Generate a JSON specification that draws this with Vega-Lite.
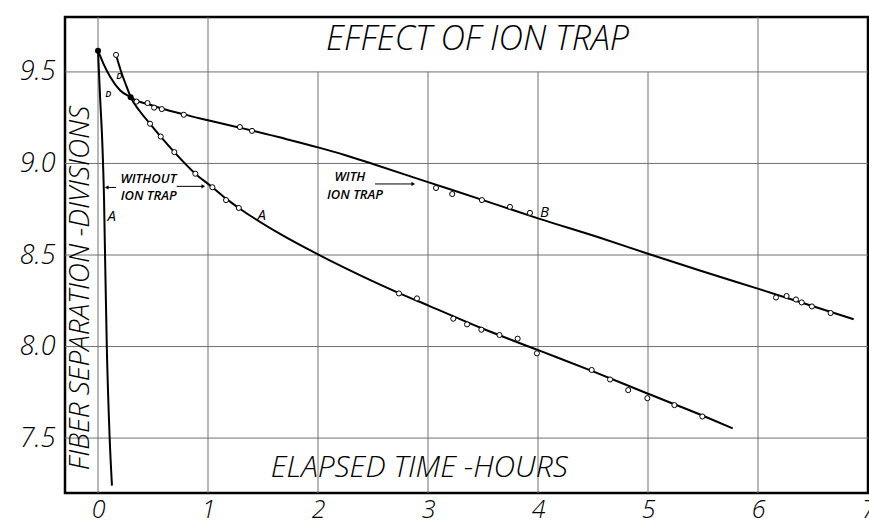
{
  "$schema": "https://vega.github.io/schema/vega-lite/v6.json",
  "width": 803,
  "height": 476,
  "autosize": "none",
  "padding": {"left": 65, "top": 17, "right": 1, "bottom": 30},
  "background": "white",
  "config": {
    "view": {"stroke": "black", "strokeWidth": 2.5},
    "font": "Open Sans",
    "axis": {"grid": false, "ticks": false, "domain": false, "labelFont": "Open Sans", "labelFontStyle": "italic", "labelFontWeight": 300, "labelColor": "black", "title": null},
    "axisX": {"labelPadding": 16, "labelBaseline": "middle", "labelFontSize": 25, "labelFlush": false},
    "axisY": {"labelPadding": 10, "labelFontSize": 27}
  },
  "datasets": {
    "gridv": [
      {"x": 0, "ylo": 7.2, "yhi": 9.8},
      {"x": 1, "ylo": 7.2, "yhi": 9.8},
      {"x": 2, "ylo": 7.2, "yhi": 9.5},
      {"x": 3, "ylo": 7.2, "yhi": 9.5},
      {"x": 4, "ylo": 7.2, "yhi": 9.5},
      {"x": 5, "ylo": 7.2, "yhi": 9.5},
      {"x": 6, "ylo": 7.2, "yhi": 9.8}
    ],
    "gridh": [
      {"y": 7.5, "xlo": -0.3, "xhi": 7},
      {"y": 8.0, "xlo": -0.3, "xhi": 7},
      {"y": 8.5, "xlo": -0.3, "xhi": 7},
      {"y": 9.0, "xlo": -0.3, "xhi": 7},
      {"y": 9.5, "xlo": -0.3, "xhi": 7}
    ],
    "curves": [
      {"series": "steep", "x": 0.0, "y": 9.616},
      {"series": "steep", "x": 0.02, "y": 9.35},
      {"series": "steep", "x": 0.04, "y": 9.1},
      {"series": "steep", "x": 0.055, "y": 8.8},
      {"series": "steep", "x": 0.064, "y": 8.5},
      {"series": "steep", "x": 0.08, "y": 8.0},
      {"series": "steep", "x": 0.106, "y": 7.5},
      {"series": "steep", "x": 0.127, "y": 7.24},
      {"series": "A", "x": 0.164, "y": 9.593},
      {"series": "A", "x": 0.215, "y": 9.493},
      {"series": "A", "x": 0.26, "y": 9.42},
      {"series": "A", "x": 0.297, "y": 9.362},
      {"series": "A", "x": 0.382, "y": 9.284},
      {"series": "A", "x": 0.473, "y": 9.217},
      {"series": "A", "x": 0.57, "y": 9.147},
      {"series": "A", "x": 0.694, "y": 9.062},
      {"series": "A", "x": 0.885, "y": 8.944},
      {"series": "A", "x": 1.04, "y": 8.87},
      {"series": "A", "x": 1.164, "y": 8.808},
      {"series": "A", "x": 1.28, "y": 8.757},
      {"series": "A", "x": 1.655, "y": 8.615},
      {"series": "A", "x": 2.0, "y": 8.503},
      {"series": "A", "x": 2.38, "y": 8.39},
      {"series": "A", "x": 2.736, "y": 8.292},
      {"series": "A", "x": 3.0, "y": 8.225},
      {"series": "A", "x": 3.5, "y": 8.097},
      {"series": "A", "x": 4.02, "y": 7.976},
      {"series": "A", "x": 4.5, "y": 7.864},
      {"series": "A", "x": 5.0, "y": 7.742},
      {"series": "A", "x": 5.5, "y": 7.622},
      {"series": "A", "x": 5.77, "y": 7.553},
      {"series": "B", "x": 0.0, "y": 9.616},
      {"series": "B", "x": 0.048, "y": 9.547},
      {"series": "B", "x": 0.109, "y": 9.475},
      {"series": "B", "x": 0.2, "y": 9.40},
      {"series": "B", "x": 0.297, "y": 9.362},
      {"series": "B", "x": 0.35, "y": 9.343},
      {"series": "B", "x": 0.45, "y": 9.325},
      {"series": "B", "x": 0.58, "y": 9.30},
      {"series": "B", "x": 0.78, "y": 9.268},
      {"series": "B", "x": 1.0, "y": 9.236},
      {"series": "B", "x": 1.29, "y": 9.195},
      {"series": "B", "x": 1.4, "y": 9.180},
      {"series": "B", "x": 1.7, "y": 9.135},
      {"series": "B", "x": 2.0, "y": 9.088},
      {"series": "B", "x": 2.25, "y": 9.045},
      {"series": "B", "x": 2.5, "y": 8.997},
      {"series": "B", "x": 3.0, "y": 8.898},
      {"series": "B", "x": 3.5, "y": 8.80},
      {"series": "B", "x": 4.0, "y": 8.70},
      {"series": "B", "x": 4.564, "y": 8.594},
      {"series": "B", "x": 5.0, "y": 8.507},
      {"series": "B", "x": 5.5, "y": 8.41},
      {"series": "B", "x": 6.02, "y": 8.312},
      {"series": "B", "x": 6.5, "y": 8.22},
      {"series": "B", "x": 6.87, "y": 8.149}
    ],
    "obs": [
      {"series": "B", "role": "anchor", "x": 0.0, "y": 9.616},
      {"series": "B", "role": "anchor", "x": 0.297, "y": 9.362},
      {"series": "B", "role": "obs", "x": 0.35, "y": 9.338},
      {"series": "B", "role": "obs", "x": 0.45, "y": 9.33},
      {"series": "B", "role": "obs", "x": 0.51, "y": 9.305},
      {"series": "B", "role": "obs", "x": 0.58, "y": 9.297},
      {"series": "B", "role": "obs", "x": 0.78, "y": 9.266},
      {"series": "B", "role": "obs", "x": 1.29, "y": 9.199},
      {"series": "B", "role": "obs", "x": 1.40, "y": 9.178},
      {"series": "B", "role": "obs", "x": 3.073, "y": 8.866},
      {"series": "B", "role": "obs", "x": 3.22, "y": 8.833},
      {"series": "B", "role": "obs", "x": 3.49, "y": 8.80},
      {"series": "B", "role": "obs", "x": 3.745, "y": 8.763},
      {"series": "B", "role": "obs", "x": 3.927, "y": 8.73},
      {"series": "B", "role": "obs", "x": 6.164, "y": 8.268},
      {"series": "B", "role": "obs", "x": 6.26, "y": 8.276},
      {"series": "B", "role": "obs", "x": 6.345, "y": 8.257},
      {"series": "B", "role": "obs", "x": 6.397, "y": 8.241},
      {"series": "B", "role": "obs", "x": 6.49, "y": 8.219},
      {"series": "B", "role": "obs", "x": 6.66, "y": 8.183},
      {"series": "A", "role": "obs", "x": 0.164, "y": 9.593},
      {"series": "A", "role": "obs", "x": 0.473, "y": 9.217},
      {"series": "A", "role": "obs", "x": 0.57, "y": 9.147},
      {"series": "A", "role": "obs", "x": 0.694, "y": 9.062},
      {"series": "A", "role": "obs", "x": 0.885, "y": 8.944},
      {"series": "A", "role": "obs", "x": 1.04, "y": 8.87},
      {"series": "A", "role": "obs", "x": 1.164, "y": 8.80},
      {"series": "A", "role": "obs", "x": 1.28, "y": 8.757},
      {"series": "A", "role": "obs", "x": 2.736, "y": 8.29},
      {"series": "A", "role": "obs", "x": 2.90, "y": 8.263},
      {"series": "A", "role": "obs", "x": 3.23, "y": 8.152},
      {"series": "A", "role": "obs", "x": 3.355, "y": 8.121},
      {"series": "A", "role": "obs", "x": 3.485, "y": 8.092},
      {"series": "A", "role": "obs", "x": 3.65, "y": 8.063},
      {"series": "A", "role": "obs", "x": 3.815, "y": 8.043},
      {"series": "A", "role": "obs", "x": 3.99, "y": 7.963},
      {"series": "A", "role": "obs", "x": 4.488, "y": 7.872},
      {"series": "A", "role": "obs", "x": 4.655, "y": 7.82},
      {"series": "A", "role": "obs", "x": 4.82, "y": 7.762},
      {"series": "A", "role": "obs", "x": 4.994, "y": 7.718},
      {"series": "A", "role": "obs", "x": 5.24, "y": 7.68},
      {"series": "A", "role": "obs", "x": 5.494, "y": 7.618}
    ],
    "arrows": [
      {"x": 0.079, "x2": 0.164, "y": 8.869},
      {"x": 0.715, "x2": 0.957, "y": 8.875},
      {"x": 2.518, "x2": 2.866, "y": 8.888}
    ],
    "heads": [
      {"x": 0.079, "y": 8.869, "dir": "left"},
      {"x": 0.957, "y": 8.875, "dir": "right"},
      {"x": 2.866, "y": 8.888, "dir": "right"}
    ],
    "texts": [
      {"kind": "title", "x": 3.45, "y": 9.674, "text": "EFFECT OF ION TRAP"},
      {"kind": "xtitle", "x": 2.92, "y": 7.337, "text": "ELAPSED TIME -HOURS"},
      {"kind": "ytitle", "x": -0.155, "y": 8.32, "text": "FIBER SEPARATION -DIVISIONS"},
      {"kind": "note", "x": 0.458, "y": 8.917, "text": "WITHOUT"},
      {"kind": "note", "x": 0.46, "y": 8.82, "text": "ION TRAP"},
      {"kind": "note", "x": 2.29, "y": 8.926, "text": "WITH"},
      {"kind": "note", "x": 2.336, "y": 8.83, "text": "ION TRAP"},
      {"kind": "letter", "x": 0.125, "y": 8.715, "text": "A"},
      {"kind": "letter", "x": 1.488, "y": 8.719, "text": "A"},
      {"kind": "letter", "x": 4.058, "y": 8.733, "text": "B"},
      {"kind": "small", "x": 0.094, "y": 9.38, "text": "D"},
      {"kind": "small", "x": 0.194, "y": 9.478, "text": "D"}
    ]
  },
  "layer": [
    {
      "data": {"name": "gridv"},
      "mark": {"type": "rule", "color": "#707070", "strokeWidth": 1},
      "encoding": {
        "x": {"field": "x", "type": "quantitative", "title": null,
          "scale": {"domain": [-0.3, 7], "nice": false, "zero": false},
          "axis": {"values": [0, 1, 2, 3, 4, 5, 6, 7], "format": "d"}},
        "y": {"field": "ylo", "type": "quantitative", "title": null,
          "scale": {"domain": [7.2, 9.8], "nice": false, "zero": false},
          "axis": {"values": [7.5, 8, 8.5, 9, 9.5], "format": ".1f"}},
        "y2": {"field": "yhi"}
      }
    },
    {
      "data": {"name": "gridh"},
      "mark": {"type": "rule", "color": "#707070", "strokeWidth": 1},
      "encoding": {
        "y": {"field": "y", "type": "quantitative", "title": null},
        "x": {"field": "xlo", "type": "quantitative", "title": null},
        "x2": {"field": "xhi"}
      }
    },
    {
      "data": {"name": "curves"},
      "mark": {"type": "line", "color": "black", "strokeWidth": 2, "interpolate": "monotone"},
      "encoding": {
        "x": {"field": "x", "type": "quantitative", "title": null},
        "y": {"field": "y", "type": "quantitative", "title": null},
        "detail": {"field": "series"}
      }
    },
    {
      "data": {"name": "obs"},
      "transform": [{"filter": "datum.role === 'obs'"}],
      "mark": {"type": "point", "shape": "circle", "filled": true, "fill": "white", "stroke": "black", "strokeWidth": 1, "size": 26, "opacity": 1},
      "encoding": {
        "x": {"field": "x", "type": "quantitative", "title": null},
        "y": {"field": "y", "type": "quantitative", "title": null}
      }
    },
    {
      "data": {"name": "obs"},
      "transform": [{"filter": "datum.role === 'anchor'"}],
      "mark": {"type": "point", "shape": "circle", "filled": true, "color": "black", "size": 36, "opacity": 1},
      "encoding": {
        "x": {"field": "x", "type": "quantitative", "title": null},
        "y": {"field": "y", "type": "quantitative", "title": null}
      }
    },
    {
      "data": {"name": "arrows"},
      "mark": {"type": "rule", "color": "black", "strokeWidth": 1},
      "encoding": {
        "x": {"field": "x", "type": "quantitative", "title": null},
        "x2": {"field": "x2"},
        "y": {"field": "y", "type": "quantitative", "title": null}
      }
    },
    {
      "data": {"name": "heads"},
      "mark": {"type": "point", "filled": true, "color": "black", "size": 18, "opacity": 1},
      "encoding": {
        "x": {"field": "x", "type": "quantitative", "title": null},
        "y": {"field": "y", "type": "quantitative", "title": null},
        "shape": {"field": "dir", "type": "nominal", "scale": {"domain": ["left", "right"], "range": ["triangle-left", "triangle-right"]}, "legend": null}
      }
    },
    {
      "data": {"name": "texts"},
      "transform": [{"filter": "datum.kind === 'title'"}],
      "mark": {"type": "text", "font": "Open Sans", "fontStyle": "italic", "fontWeight": 300, "fontSize": 34, "color": "black", "align": "center", "baseline": "middle"},
      "encoding": {
        "x": {"field": "x", "type": "quantitative", "title": null},
        "y": {"field": "y", "type": "quantitative", "title": null},
        "text": {"field": "text"}
      }
    },
    {
      "data": {"name": "texts"},
      "transform": [{"filter": "datum.kind === 'xtitle'"}],
      "mark": {"type": "text", "font": "Open Sans", "fontStyle": "italic", "fontWeight": 300, "fontSize": 30, "color": "black", "align": "center", "baseline": "middle"},
      "encoding": {
        "x": {"field": "x", "type": "quantitative", "title": null},
        "y": {"field": "y", "type": "quantitative", "title": null},
        "text": {"field": "text"}
      }
    },
    {
      "data": {"name": "texts"},
      "transform": [{"filter": "datum.kind === 'ytitle'"}],
      "mark": {"type": "text", "font": "Open Sans", "fontStyle": "italic", "fontWeight": 300, "fontSize": 28, "color": "black", "align": "center", "baseline": "middle", "angle": 270},
      "encoding": {
        "x": {"field": "x", "type": "quantitative", "title": null},
        "y": {"field": "y", "type": "quantitative", "title": null},
        "text": {"field": "text"}
      }
    },
    {
      "data": {"name": "texts"},
      "transform": [{"filter": "datum.kind === 'note'"}],
      "mark": {"type": "text", "font": "Open Sans", "fontStyle": "italic", "fontWeight": 600, "fontSize": 13, "color": "black", "align": "center", "baseline": "middle"},
      "encoding": {
        "x": {"field": "x", "type": "quantitative", "title": null},
        "y": {"field": "y", "type": "quantitative", "title": null},
        "text": {"field": "text"}
      }
    },
    {
      "data": {"name": "texts"},
      "transform": [{"filter": "datum.kind === 'letter'"}],
      "mark": {"type": "text", "font": "Open Sans", "fontStyle": "italic", "fontWeight": 400, "fontSize": 15, "color": "black", "align": "center", "baseline": "middle"},
      "encoding": {
        "x": {"field": "x", "type": "quantitative", "title": null},
        "y": {"field": "y", "type": "quantitative", "title": null},
        "text": {"field": "text"}
      }
    },
    {
      "data": {"name": "texts"},
      "transform": [{"filter": "datum.kind === 'small'"}],
      "mark": {"type": "text", "font": "Open Sans", "fontStyle": "italic", "fontWeight": 600, "fontSize": 9, "color": "black", "align": "center", "baseline": "middle"},
      "encoding": {
        "x": {"field": "x", "type": "quantitative", "title": null},
        "y": {"field": "y", "type": "quantitative", "title": null},
        "text": {"field": "text"}
      }
    }
  ]
}
